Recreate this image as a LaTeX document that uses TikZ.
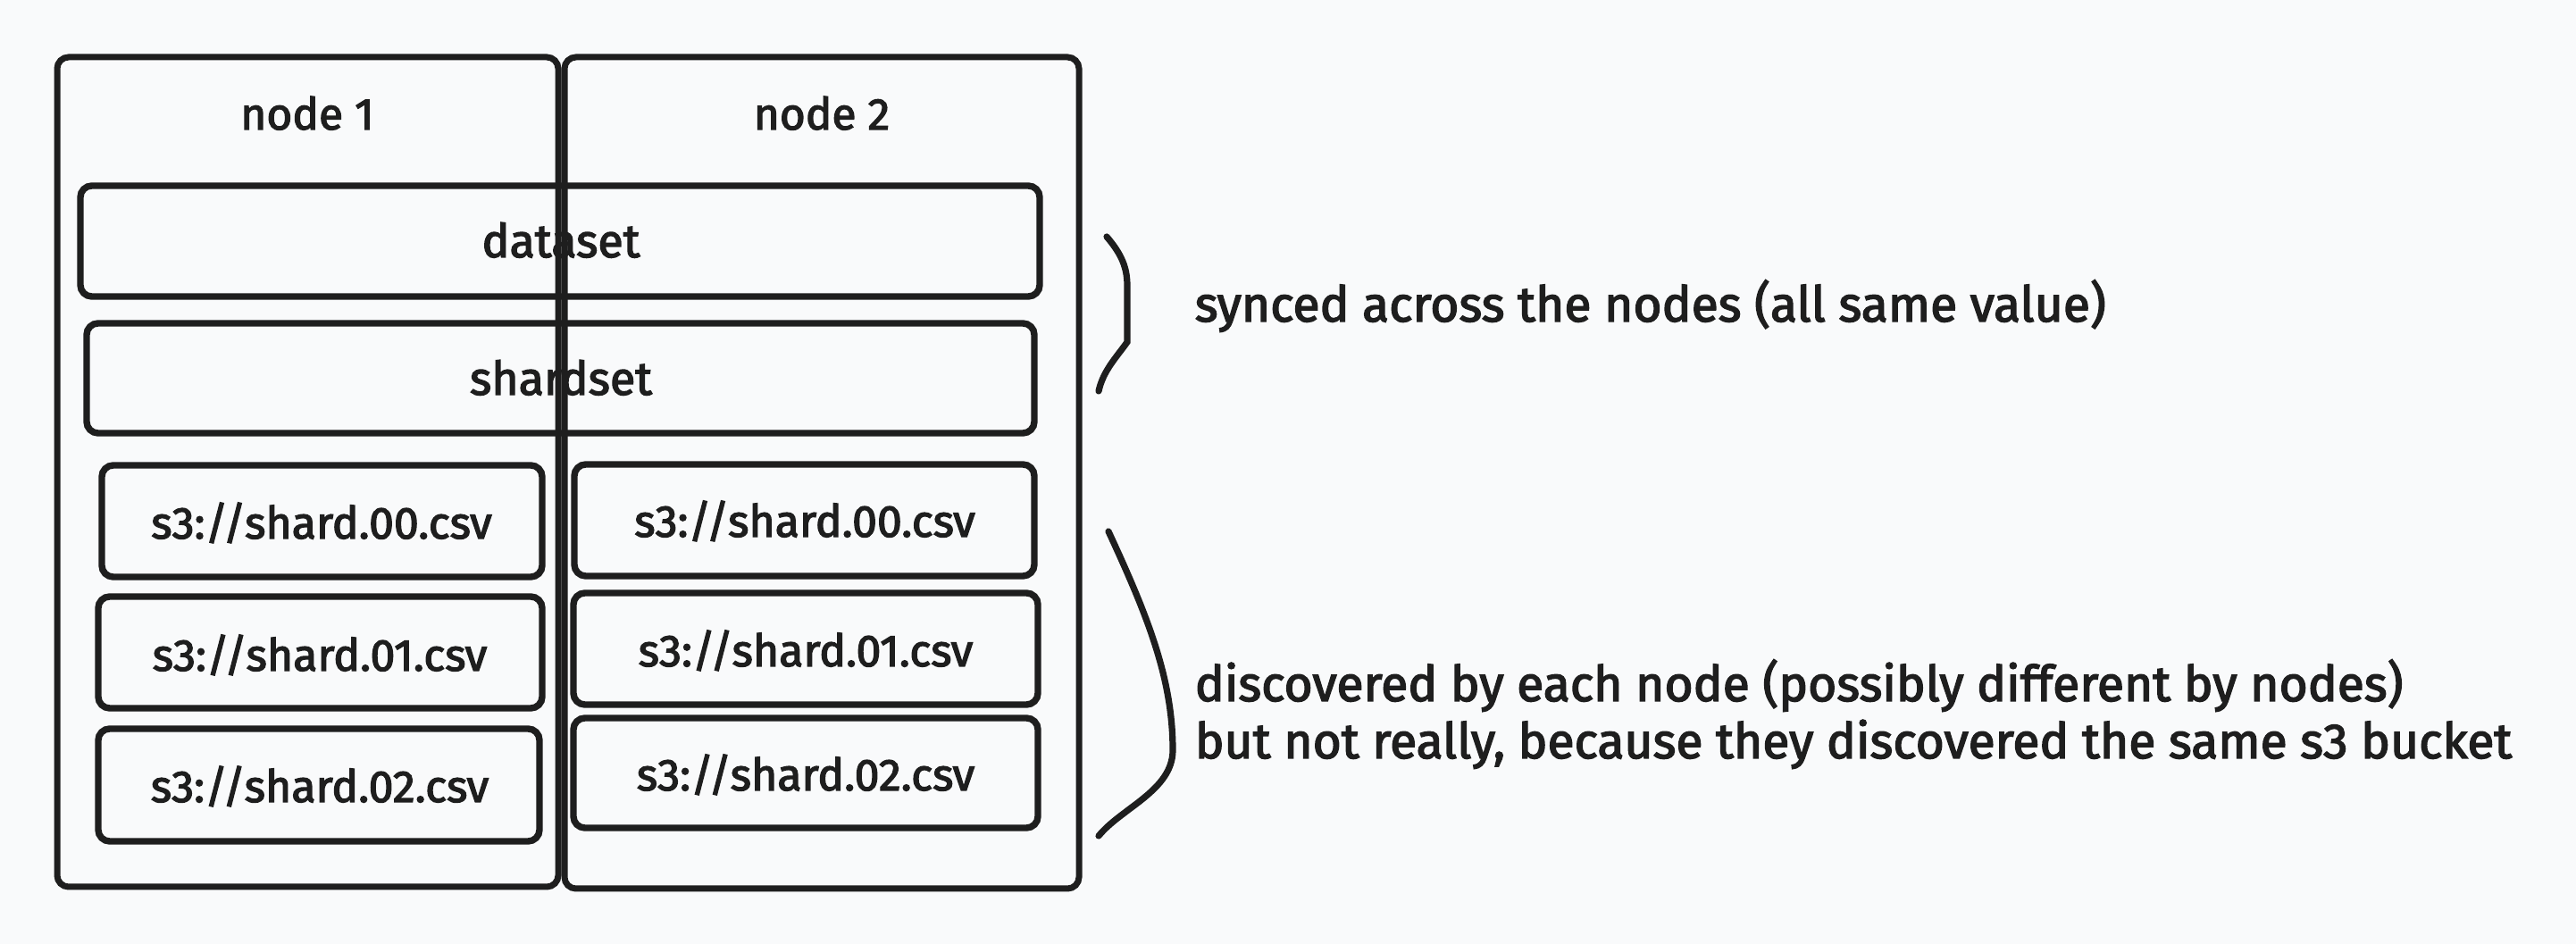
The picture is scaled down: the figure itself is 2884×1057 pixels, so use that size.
\documentclass[tikz,border=0pt]{standalone}
\usepackage{fontspec}
\setmainfont{Fira Sans}[FakeBold=2.6]
\usetikzlibrary{fit}
\definecolor{bg}{RGB}{249,250,251}
\definecolor{ink}{RGB}{30,30,30}
\begin{document}
\begin{tikzpicture}[x=0.25pt,y=-0.25pt,
  outerbox/.style={draw=ink, line width=1.75pt, rounded corners=3.2pt, inner sep=0pt},
  innerbox/.style={draw=ink, line width=1.85pt, rounded corners=3.2pt, inner sep=0pt},
  lbl/.style={text=ink, font=\fontsize{13}{15}\selectfont, anchor=base, inner sep=0pt},
  toplbl/.style={lbl, font=\fontsize{12.4}{15}\selectfont},
  shardlbl/.style={lbl, font=\fontsize{12.5}{15}\selectfont},
  note/.style={lbl, anchor=base west, font=\fontsize{13.8}{16}\selectfont},
  bracket/.style={draw=ink, line width=1.8pt, line cap=round}]
\fill[bg] (0,0) rectangle (2884,1057);
\useasboundingbox (0,0) rectangle (2884,1057);
% node columns
\node[outerbox, fit={(64,64) (625,993)}] (n1) {};
\node[outerbox, fit={(632,64) (1208,995)}] (n2) {};
\node[toplbl] (n1t) at (344,145) {node 1};
\node[toplbl] (n2t) at (920,145) {node 2};
% shared boxes
\node[innerbox, fit={(90,208) (1164,332)}] (ds) {};
\node[innerbox, fit={(97,362) (1158,485)}] (ss) {};
\node[lbl] (dst) at (628,288) {dataset};
\node[lbl] (sst) at (628,442) {shardset};
% left shards
\node[innerbox, fit={(114,521) (607,646)}] (l0) {};
\node[innerbox, fit={(110,668) (607,793)}] (l1) {};
\node[innerbox, fit={(110,816) (604,942)}] (l2) {};
\node[shardlbl] (l0t) at (360,603) {s3://shard.00.csv};
\node[shardlbl] (l1t) at (358,751) {s3://shard.01.csv};
\node[shardlbl] (l2t) at (358,898) {s3://shard.02.csv};
% right shards
\node[innerbox, fit={(643,520) (1158,645)}] (r0) {};
\node[innerbox, fit={(642,664) (1162,789)}] (r1) {};
\node[innerbox, fit={(642,804) (1162,927)}] (r2) {};
\node[shardlbl] (r0t) at (901,601) {s3://shard.00.csv};
\node[shardlbl] (r1t) at (902,746) {s3://shard.01.csv};
\node[shardlbl] (r2t) at (902,885) {s3://shard.02.csv};
% brackets
\draw[bracket] (1239,265) .. controls (1256,285) and (1262,300) .. (1262,320)
  -- (1262,383) .. controls (1250,400) and (1235,415) .. (1230,438);
\draw[bracket] (1241,595) .. controls (1285,690) and (1313,760) .. (1313,840)
  .. controls (1313,885) and (1255,905) .. (1230,936);
% notes
\node[note] (s1) at (1337,360) {synced across the nodes (all same value)};
\node[note] (d1) at (1337,785) {discovered by each node (possibly different by nodes)};
\node[note] (d2) at (1337,849) {but not really, because they discovered the same s3 bucket};
\end{tikzpicture}
\end{document}
